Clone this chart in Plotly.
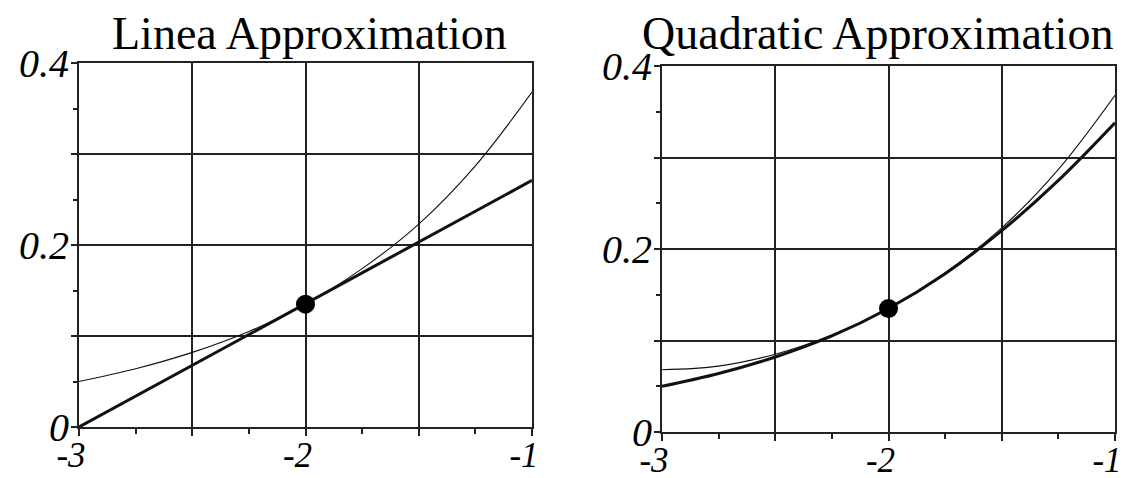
import plotly.graph_objects as go

# Sample positions along x
X = [-3.0, -2.75, -2.5, -2.25, -2.0, -1.75, -1.5, -1.25, -1.0]

# Left panel: curve and its tangent line at x = -2
LIN_CURVE = [0.050, 0.064, 0.082, 0.105, 0.135, 0.174, 0.223, 0.287, 0.368]
LIN_X = [-3.0, -1.0]
LIN_Y = [0.0, 0.271]

# Right panel: thin and thick curves
QUAD_THIN = [0.068, 0.072, 0.085, 0.106, 0.135, 0.174, 0.223, 0.287, 0.368]
QUAD_THICK = [0.050, 0.064, 0.082, 0.105, 0.135, 0.173, 0.220, 0.275, 0.338]

# Point of expansion
POINT_X = [-2.0]
POINT_Y = [0.135]

TITLES = ["Linea Approximation", "Quadratic Approximation"]
X_TICKS = [-3, -2.5, -2, -1.5, -1]
X_TICK_TEXT = ["-3", "", "-2", "", "-1"]
Y_TICKS = [0, 0.1, 0.2, 0.3, 0.4]
Y_TICK_TEXT = ["0", "", "0.2", "", "0.4"]

INK = "#111111"
GRID = "#222222"
W, H = 1126, 478

fig = go.Figure()

# left panel
fig.add_trace(go.Scatter(x=X, y=LIN_CURVE, mode="lines", line=dict(color=INK, width=1.1, shape="spline"),
                         xaxis="x", yaxis="y", showlegend=False))
fig.add_trace(go.Scatter(x=LIN_X, y=LIN_Y, mode="lines", line=dict(color=INK, width=3),
                         xaxis="x", yaxis="y", showlegend=False))
fig.add_trace(go.Scatter(x=POINT_X, y=POINT_Y, mode="markers", marker=dict(color="black", size=19),
                         xaxis="x", yaxis="y", showlegend=False))

# right panel
fig.add_trace(go.Scatter(x=X, y=QUAD_THIN, mode="lines", line=dict(color=INK, width=1.1, shape="spline"),
                         xaxis="x2", yaxis="y2", showlegend=False))
fig.add_trace(go.Scatter(x=X, y=QUAD_THICK, mode="lines", line=dict(color=INK, width=3, shape="spline"),
                         xaxis="x2", yaxis="y2", showlegend=False))
fig.add_trace(go.Scatter(x=POINT_X, y=POINT_Y, mode="markers", marker=dict(color="black", size=19),
                         xaxis="x2", yaxis="y2", showlegend=False))

x_tick_font = dict(family="Liberation Serif", size=35, color="black", style="italic")
y_tick_font = dict(family="Liberation Serif", size=40, color="black", style="italic")


def xaxis(domain, anchor):
    return dict(domain=domain, anchor=anchor, range=[-3, -1], tickmode="array",
                tickvals=X_TICKS, ticktext=X_TICK_TEXT, ticks="outside", ticklen=7,
                tickwidth=2, tickcolor=GRID, showgrid=True, gridcolor=GRID, gridwidth=1.8,
                showline=True, linecolor=GRID, linewidth=2, mirror=True, zeroline=False,
                tickfont=x_tick_font, ticklabelstandoff=-11, ticklabelshift=-8, automargin=False,
                minor=dict(dtick=0.25, tick0=-3, ticks="outside", ticklen=5, tickwidth=2,
                           tickcolor=GRID, showgrid=False),
                fixedrange=True)


def yaxis(domain, anchor):
    return dict(domain=domain, anchor=anchor, range=[0, 0.4], tickmode="array",
                tickvals=Y_TICKS, ticktext=Y_TICK_TEXT, ticks="outside", ticklen=6,
                tickwidth=2, tickcolor=GRID, showgrid=True, gridcolor=GRID, gridwidth=1.8,
                showline=True, linecolor=GRID, linewidth=2, mirror=True, zeroline=False,
                tickfont=y_tick_font, ticklabelstandoff=-6, automargin=False,
                minor=dict(dtick=0.05, tick0=0, ticks="outside", ticklen=4, tickwidth=2,
                           tickcolor=GRID, showgrid=False),
                fixedrange=True)


fig.update_layout(
    width=W, height=H,
    margin=dict(l=0, r=0, t=0, b=0, autoexpand=False),
    paper_bgcolor="white", plot_bgcolor="white",
    xaxis=xaxis([79 / W, 532 / W], "y"),
    yaxis=yaxis([1 - 427 / H, 1 - 63 / H], "x"),
    xaxis2=xaxis([662 / W, 1115 / W], "y2"),
    yaxis2=yaxis([1 - 432 / H, 1 - 66 / H], "x2"),
    font=dict(family="Liberation Serif"),
)

for text, cx in zip(TITLES, [309 / W, 877 / W]):
    fig.add_annotation(text=text, x=cx, y=1 - 33 / H, xref="paper", yref="paper",
                       xanchor="center", yanchor="middle", showarrow=False,
                       font=dict(family="Liberation Serif", size=46, color="black"))

fig.write_html("out.html", config=dict(displayModeBar=False))
